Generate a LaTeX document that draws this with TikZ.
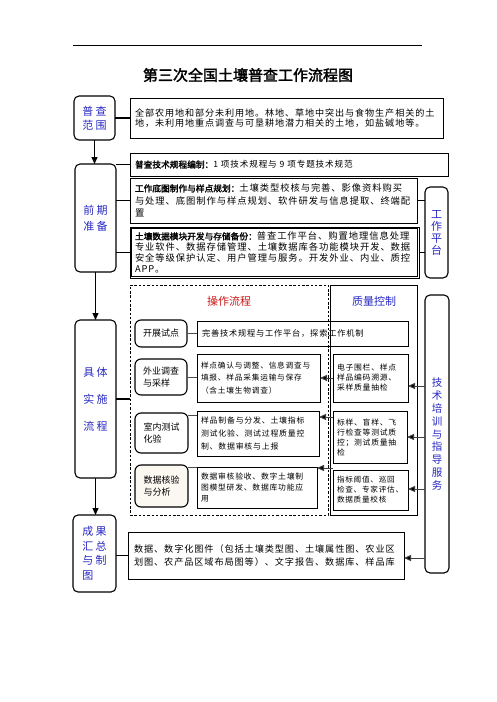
\documentclass[tikz,border=0pt]{standalone}
\usepackage{fontspec}
\setmainfont{Noto Sans CJK SC}
\newfontfamily\cjk[LetterSpace=10]{Noto Sans CJK SC}
\newfontfamily\cjkh[AutoFakeBold=2]{Noto Sans CJK SC}
\usetikzlibrary{arrows.meta,calc}
\definecolor{lblue}{RGB}{40,40,195}
\definecolor{hred}{RGB}{205,25,25}
\definecolor{beige}{RGB}{251,248,241}
\newcommand\tb[9]{\node[tbox, minimum width=#4pt, minimum height=#5pt, text width=#6pt, font=\cjk\fontsize{#7}{#8}\selectfont] (#1) at (#2,#3) {#9};}
\newcommand\hd[2]{{\cjkh\bfseries\fontsize{8.7}{#1}\selectfont #2}}
\tikzset{
  tbox/.style={draw, line width=0.8pt, inner sep=0pt, outer sep=0pt, align=left},
  lbl/.style={draw, rounded corners=5pt, line width=1.1pt, text=lblue, inner sep=0pt, outer sep=0pt, align=center},
  step2/.style={draw, rounded corners=6pt, line width=1.1pt, inner sep=0pt, outer sep=0pt, align=left, font=\cjkh\fontsize{9}{12}\selectfont},
  thick2/.style={line width=1.8pt},
  thin2/.style={line width=0.6pt, draw=black!70},
  arr/.style={line width=1pt, -{Triangle[length=7pt,width=6pt]}},
  harr/.style={line width=1pt, draw=black!75, -{Triangle[length=7pt,width=6pt,fill=black]}}
}
\begin{document}
\begin{tikzpicture}[x=1pt,y=-1pt]
\useasboundingbox[fill=white] (0,0) rectangle (496,702);
% top rule and title
\draw[line width=0.8pt] (73,45) -- (422,45);
\node[font=\cjkh\bfseries\fontsize{15}{16}\selectfont] (title) at (248,75) {第三次全国土壤普查工作流程图};

% left column
\node[lbl, minimum width=41pt, minimum height=44pt, font=\cjkh\fontsize{11}{14}\selectfont] (scope) at (94.5,118) {普 查\\范 围};
\node[lbl, minimum width=41pt, minimum height=108pt, font=\cjkh\fontsize{11}{16}\selectfont] (prep) at (95.5,218) {前 期\\准 备};
\node[lbl, minimum width=41pt, minimum height=158pt, font=\cjkh\fontsize{11}{27}\selectfont] (impl) at (95.5,399) {具 体\\实 施\\流 程};
\node[lbl, minimum width=43pt, minimum height=77pt, font=\cjkh\fontsize{11}{14.5}\selectfont, align=left] (res) at (94.5,553.5) {成 果\\汇 总\\与 制\\图};

% scope text
\tb{scopeT}{286.5}{118}{313}{40}{303}{9.1}{10.5}{全部农用地和部分未利用地。林地、草地中突出与食物生产相关的土\\地，未利用地重点调查与可垦耕地潜力相关的土地，如盐碱地等。}

% preparation
\tb{p1}{289}{164.5}{318}{23}{308}{8.6}{11}{\hd{11}{普查技术规程编制：}1 项技术规程与 9 项专题技术规范}
\tb{p2}{273.5}{200.5}{287}{45}{277}{9.3}{12.5}{\hd{12.5}{工作底图制作与样点规划：}土壤类型校核与完善、影像资料购买\\与处理、底图制作与样点规划、软件研发与信息提取、终端配\\置}
\tb{p3}{274.5}{252.5}{289}{51}{279}{9.3}{11}{\hd{11}{土壤数据模块开发与存储备份：}普查工作平台、购置地理信息处理\\专业软件、数据存储管理、土壤数据库各功能模块开发、数据\\安全等级保护认定、用户管理与服务。开发外业、内业、质控\\APP。}
\draw[line width=0.5pt] ([shift={(1.5pt,-1.5pt)}]p3.north west) rectangle ([shift={(-1.5pt,1.5pt)}]p3.south east);

\node[lbl, minimum width=23pt, minimum height=91pt, font=\cjkh\fontsize{11}{12}\selectfont] (plat) at (436.5,232.5) {工\\作\\平\\台};

% dashed operation frame and QC frame
\node[draw, dashed, dash pattern=on 2.5pt off 1.8pt, line width=0.8pt, minimum width=198pt, minimum height=230pt, inner sep=0pt] (ops) at (229,400) {};
\node[draw, line width=0.9pt, minimum width=87pt, minimum height=230pt, inner sep=0pt] (qc) at (373.5,400) {};
\node[text=hred, font=\cjkh\fontsize{11}{12}\selectfont] (h1) at (229,301) {操作流程};
\node[text=lblue, font=\cjkh\fontsize{11}{12}\selectfont] (h2) at (374,301) {质量控制};

% steps
\node[step2, minimum width=52pt, minimum height=27pt] (s1) at (161,333.5) {开展试点};
\node[step2, minimum width=52pt, minimum height=36pt] (s2) at (161,377) {外业调查\\与采样};
\node[step2, minimum width=53pt, minimum height=40pt] (s3) at (161.5,433) {室内测试\\化验};
\node[step2, minimum width=53pt, minimum height=42pt, fill=beige] (s4) at (161.5,486) {数据核验\\与分析};

\tb{t1}{302.5}{333.5}{211}{25}{201}{8.2}{11}{完善技术规程与工作平台，探索工作机制}
\tb{t2}{258.5}{378}{123}{48}{115}{7.7}{12.5}{样点确认与调整、信息调查与\\填报、样品采集运输与保存\\（含土壤生物调查）}
\tb{t3}{258}{433.5}{122}{45}{114}{7.9}{13}{样品制备与分发、土壤指标\\测试化验、测试过程质量控\\制、数据审核与上报}
\tb{t4}{257}{487.5}{120}{41}{112}{7.8}{11}{数据审核验收、数字土壤制\\图模型研发、数据库功能应\\用}

\tb{q2}{370.5}{378}{75}{48}{67}{7.8}{10}{电子围栏、样点\\样品编码溯源、\\采样质量抽检}
\tb{q3}{370}{437}{74}{52}{66}{7.8}{10}{标样、盲样、飞\\行检查等测试质\\控；测试质量抽\\检}
\tb{q4}{370.5}{490}{75}{40}{67}{7.6}{10}{指标阈值、巡回\\检查、专家评估、\\数据质量校核}

\node[lbl, minimum width=24pt, minimum height=278pt, font=\cjkh\fontsize{10.5}{12.9}\selectfont] (train) at (437,434) {技\\术\\培\\训\\与\\指\\导\\服\\务};

% results
\tb{final}{266}{555.5}{276}{47}{264}{9.15}{13.5}{数据、数字化图件（包括土壤类型图、土壤属性图、农业区\\划图、农产品区域布局图等）、文字报告、数据库、样品库}

% connectors
\draw[thick2] (scope.east) -- (scopeT.west);
\draw[arr] (scope.south) -- (scope.south |- prep.north);
\draw[thick2] (p1.west -| prep.east) -- (p1.west);
\draw[thick2] (p2.west -| prep.east) -- (p2.west);
\draw[thick2] (p3.west -| prep.east) -- (p3.west);
\draw[thick2] (p2.east) -- (p2.east -| plat.west);
\draw[thick2] (p3.east) -- (p3.east -| plat.west);
\draw[arr] (prep.south) -- (prep.south |- impl.north);
\draw[thick2] (impl.east) -- (impl.east -| ops.west);
\draw[arr] (impl.south) -- (impl.south |- res.north);
\draw[thick2] (res.east |- final.west) -- (final.west);

\draw[thin2] (s1.east) -- (s1.east -| t1.west);
\draw[thin2] (s2.east) -- (s2.east -| t2.west);
\draw[thin2] ([yshift=18pt]s3.east) -- ([yshift=18pt]s3.east -| t3.west);
\draw[thin2] ([yshift=19pt]s4.east) -- ([yshift=19pt]s4.east -| t4.west);

\draw[harr] (q2.west) -- (q2.west -| t2.east);
\draw[harr] ([yshift=20pt]q3.west) -- ([yshift=20pt]q3.west -| t3.east);
\draw[harr] ([yshift=22pt]q4.west) -- ([yshift=22pt]q4.west -| t4.east);

\draw[harr] ([yshift=48pt]train.west) -- ([yshift=48pt]train.west -| q2.east);
\draw[harr] ([yshift=-3pt]train.west) -- ([yshift=-3pt]train.west -| q3.east);
\draw[harr] ([yshift=-55pt]train.west) -- ([yshift=-55pt]train.west -| q4.east);
\draw[harr] ([yshift=-124pt]train.west) -- ([yshift=-124pt]train.west -| final.east);
\end{tikzpicture}
\end{document}
